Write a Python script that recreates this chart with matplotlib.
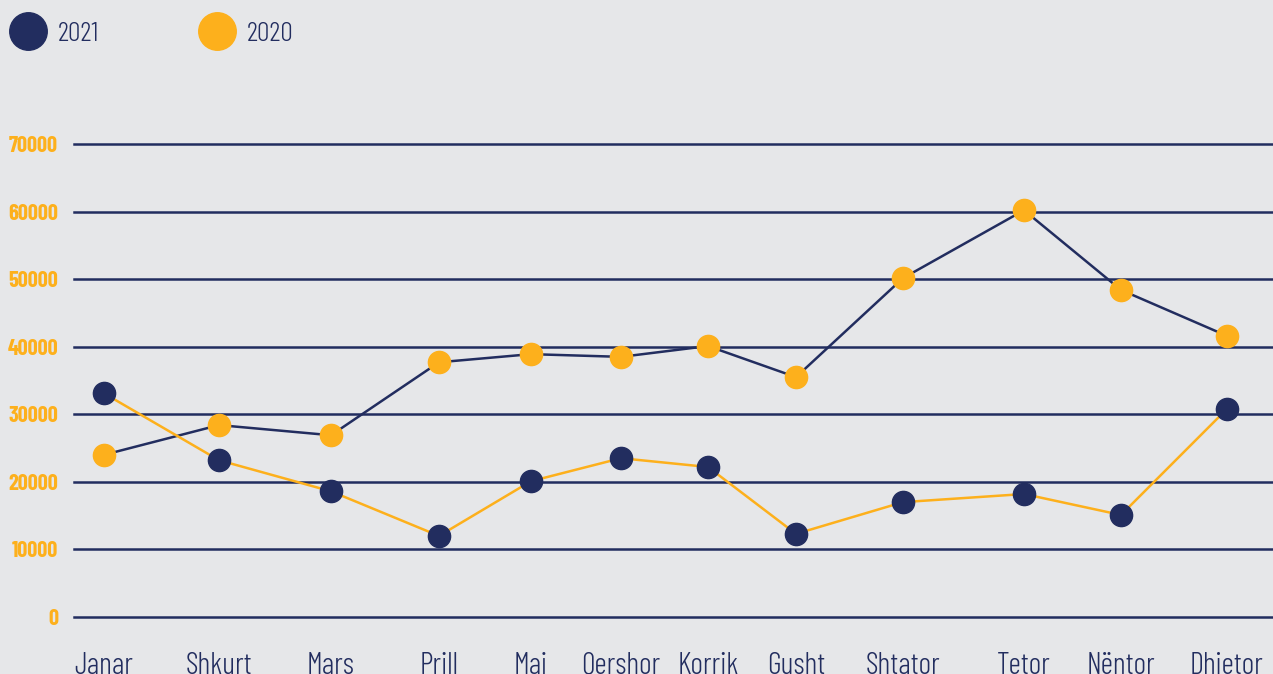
import matplotlib.pyplot as plt
from matplotlib.lines import Line2D

# Data
months = ["Janar", "Shkurt", "Mars", "Prill", "Maj", "Qershor", "Korrik",
          "Gusht", "Shtator", "Tetor", "Nëntor", "Dhjetor"]
values_2021 = [33100, 23200, 18600, 12000, 20100, 23500, 22200,
               12300, 17000, 18200, 15100, 30800]
values_2020 = [24000, 28400, 26900, 37700, 38900, 38500, 40100,
               35500, 50150, 60200, 48400, 41600]
y_ticks = [0, 10000, 20000, 30000, 40000, 50000, 60000, 70000]

# category slot centres (layout, uneven as in the original)
x_slots = [104, 219, 331, 439, 531, 621, 708, 796, 903, 1024, 1121, 1227]

navy = "#222D5F"
orange = "#FDB01C"
bg = "#E6E7E9"

plt.rcParams["font.family"] = ["Barlow Condensed", "DejaVu Sans"]

fig = plt.figure(figsize=(12.73, 6.74), dpi=100, facecolor=bg)
ax = fig.add_axes([74 / 1273, 57 / 674, 1 - 74 / 1273, 473 / 674], facecolor=bg)

for y in y_ticks:
    ax.axhline(y, color=navy, linewidth=1.8, zorder=1, clip_on=False)

# lines are drawn in the "other" colour, as in the reference
ax.plot(x_slots, values_2020, color=navy, linewidth=1.8, zorder=2)
ax.plot(x_slots, values_2021, color=orange, linewidth=1.8, zorder=2)
ax.plot(x_slots, values_2020, linestyle="none", marker="o", markersize=16,
        color=orange, zorder=3, clip_on=False)
ax.plot(x_slots, values_2021, linestyle="none", marker="o", markersize=16,
        color=navy, zorder=3, clip_on=False)

ax.set_xlim(74, 1273)
ax.set_ylim(0, 70000)
ax.set_xticks(x_slots, months)
ax.set_yticks(y_ticks, [str(v) for v in y_ticks])
ax.tick_params(axis="x", length=0, pad=25, labelsize=22, labelcolor=navy)
ax.tick_params(axis="y", length=0, pad=11.5, labelsize=16, labelcolor=orange)
for lbl in ax.get_xticklabels():
    lbl.set_fontweight(300)
for lbl in ax.get_yticklabels():
    lbl.set_fontweight(700)
for s in ax.spines.values():
    s.set_visible(False)

# legend
for cx, col, txt in [(28, navy, "2021"), (217, orange, "2020")]:
    fig.add_artist(Line2D([cx / 1273], [1 - 31 / 674], marker="o", markersize=27,
                          color=col, linestyle="none", transform=fig.transFigure))
    fig.text((cx + 30) / 1273, 1 - 34 / 674, txt, color=navy, fontsize=20,
             fontweight=300, va="center", ha="left")

fig.savefig("out.png", dpi=100, facecolor=bg)
